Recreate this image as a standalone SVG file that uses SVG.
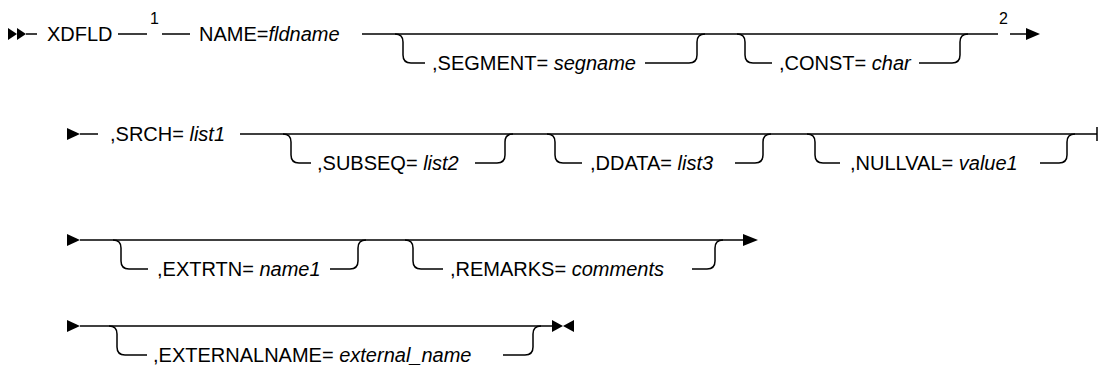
<svg xmlns="http://www.w3.org/2000/svg" width="1098" height="383" viewBox="0 0 1098 383">
<style>
.l{fill:none;stroke:#000;stroke-width:1.5}
.a{fill:#000;stroke:none}
text{font-family:"Liberation Sans",Arial,sans-serif;font-size:20px;fill:#000}
.v{font-style:italic}
.fn{font-size:16px}
</style>
<rect width="1098" height="383" fill="#fff"/>
<g id="connectors">
<!-- row 1 -->
<polygon class="a" points="8,28 17,34 8,40"/>
<polygon class="a" points="17,28 26,34 17,40"/>
<path class="l" d="M26,34 H37"/>
<path class="l" d="M118,34 H147 M162,34 H190"/>
<path class="l" d="M362,34 H998"/>
<path class="l" d="M395,34 Q403,34 403,42 V55 Q403,63 411,63 H425"/>
<path class="l" d="M645,63 H689 Q697,63 697,55 V42 Q697,34 705,34"/>
<path class="l" d="M737,34 Q745,34 745,42 V55 Q745,63 753,63 H772"/>
<path class="l" d="M919,63 H952 Q960,63 960,55 V42 Q960,34 968,34"/>
<path class="l" d="M1010,34 H1028"/>
<polygon class="a" points="1026,28 1040,34 1026,40"/>
<!-- row 2 -->
<polygon class="a" points="67,128 80,134 67,140"/>
<path class="l" d="M80,134 H98"/>
<path class="l" d="M240,134 H1097 M1097,127 V141"/>
<path class="l" d="M283,134 Q291,134 291,142 V155 Q291,163 299,163 H311"/>
<path class="l" d="M475,163 H497 Q505,163 505,155 V142 Q505,134 513,134"/>
<path class="l" d="M547,134 Q555,134 555,142 V155 Q555,163 563,163 H582"/>
<path class="l" d="M735,163 H755 Q763,163 763,155 V142 Q763,134 771,134"/>
<path class="l" d="M807,134 Q815,134 815,142 V155 Q815,163 823,163 H840"/>
<path class="l" d="M1040,163 H1059 Q1067,163 1067,155 V142 Q1067,134 1075,134"/>
<!-- row 3 -->
<polygon class="a" points="67,234 80,240 67,246"/>
<path class="l" d="M80,240 H745"/>
<polygon class="a" points="743,234 758,240 743,246"/>
<path class="l" d="M113,240 Q121,240 121,248 V261 Q121,269 129,269 H148"/>
<path class="l" d="M330,269 H350 Q358,269 358,261 V248 Q358,240 366,240"/>
<path class="l" d="M405,240 Q413,240 413,248 V261 Q413,269 421,269 H443"/>
<path class="l" d="M692,269 H707 Q715,269 715,261 V248 Q715,240 723,240"/>
<!-- row 4 -->
<polygon class="a" points="67,320 80,326 67,332"/>
<path class="l" d="M80,326 H553"/>
<path class="l" d="M109,326 Q117,326 117,334 V347 Q117,355 125,355 H147"/>
<path class="l" d="M503,355 H525 Q533,355 533,347 V334 Q533,326 541,326"/>
<polygon class="a" points="552,320 563,326 552,332"/>
<polygon class="a" points="574,320 563,326 574,332"/>
</g>
<g id="xdfld"><text x="47" y="41">XDFLD</text></g>
<g id="note1"><text class="fn" x="150" y="24">1</text></g>
<g id="name"><text x="199" y="41">NAME=<tspan class="v">fldname</tspan></text></g>
<g id="segment"><text x="432" y="70">,SEGMENT= <tspan class="v">segname</tspan></text></g>
<g id="const"><text x="779" y="70">,CONST= <tspan class="v">char</tspan></text></g>
<g id="note2"><text class="fn" x="999" y="24">2</text></g>
<g id="srch"><text x="110" y="141">,SRCH= <tspan class="v">list1</tspan></text></g>
<g id="subseq"><text x="317" y="170">,SUBSEQ= <tspan class="v">list2</tspan></text></g>
<g id="ddata"><text x="590" y="170">,DDATA= <tspan class="v">list3</tspan></text></g>
<g id="nullval"><text x="850" y="170">,NULLVAL= <tspan class="v">value1</tspan></text></g>
<g id="extrtn"><text x="157" y="276">,EXTRTN= <tspan class="v">name1</tspan></text></g>
<g id="remarks"><text x="450" y="276">,REMARKS= <tspan class="v">comments</tspan></text></g>
<g id="externalname"><text x="153" y="362">,EXTERNALNAME= <tspan class="v">external_name</tspan></text></g>
</svg>
